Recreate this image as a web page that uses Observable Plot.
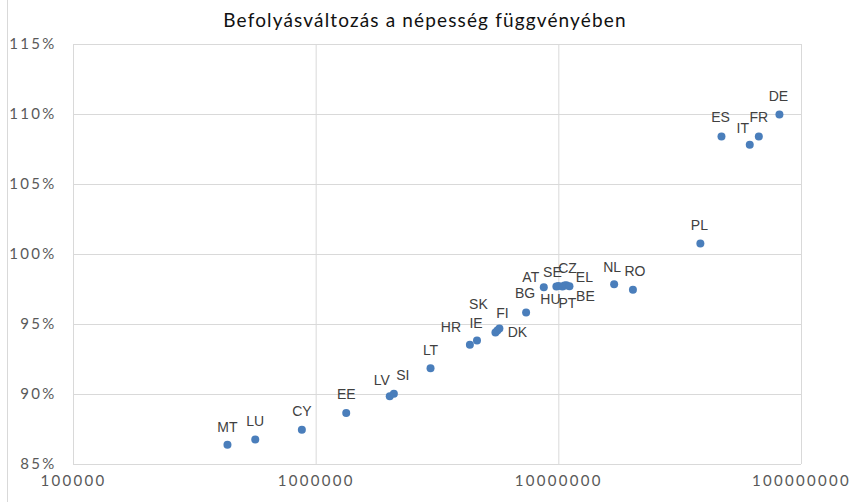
<!DOCTYPE html>
<html><head><meta charset="utf-8">
<script src="https://cdn.jsdelivr.net/npm/d3@7"></script>
<script src="https://cdn.jsdelivr.net/npm/@observablehq/plot@0.6"></script>
<style>
body{margin:0;background:#fff;}
#wrap{position:relative;width:850px;height:502px;overflow:hidden;background:#fff;}
#frame{position:absolute;left:7px;top:0;width:0;height:502px;border-left:1px solid #d9d9d9;}
#title{height:36px;line-height:40px;text-align:center;font-family:Lato,"Open Sans",sans-serif;font-size:19px;color:#111;letter-spacing:1.15px;}
g[aria-label="x-axis tick label"], g[aria-label="y-axis tick label"]{font-family:Lato,"Open Sans",sans-serif;letter-spacing:2.3px;}
</style></head>
<body><div id="wrap"><div id="frame"></div><div id="title">Befolyásváltozás a népesség függvényében</div><div id="chart"></div></div>
<script>
// Country codes, population, relative change of influence (%)
const codes = ["MT","LU","CY","EE","LV","SI","LT","HR","IE","SK","FI","DK","BG","AT","HU","SE","PT","CZ","EL","BE","NL","RO","PL","ES","IT","FR","DE"];
const population = [431000,561000,873000,1330000,2010000,2090000,2960000,4300000,4600000,5480000,5580000,5690000,7330000,8670000,9770000,9960000,10350000,10550000,10740000,11060000,16900000,20200000,38300000,46800000,61200000,66700000,81100000];
const change = [86.41,86.79,87.48,88.67,89.88,90.05,91.88,93.55,93.86,94.43,94.57,94.71,95.86,97.66,97.72,97.75,97.72,97.78,97.8,97.74,97.88,97.48,100.79,108.43,107.84,108.43,110.0];
const xTicks = [100000,1000000,10000000,100000000];
const yTicks = [85,90,95,100,105,110,115];

// label placement (style only): offset of each data label from its point
const labelNudge = {
  MT:[0,-17],LU:[0,-18],CY:[0,-18],EE:[0,-19],LV:[-8,-16],SI:[9,-18],LT:[0,-18],
  HR:[-19,-17],IE:[-1,-17],SK:[-17,-28],FI:[5,-17],DK:[18,4],BG:[-1,-19],AT:[-13,-10],
  SE:[-6,-13],CZ:[3,-17],EL:[18,-8],HU:[-6,13],PT:[5,17],BE:[16,10],
  NL:[-2,-17],RO:[2,-18],PL:[-1,-18],ES:[-1,-19],IT:[-7,-16],FR:[0,-19],DE:[-1,-18]
};

const data = codes.map((c,i)=>({code:c, pop:population[i], chg:change[i]}));
const grid = "#d9d9d9";

const labelMarks = data.map(d => Plot.text([d], {
  x:"pop", y:"chg", text:"code",
  dx: labelNudge[d.code][0], dy: labelNudge[d.code][1],
  fill:"#404040", fontSize:14, fontFamily:"Liberation Sans, Arial, sans-serif"
}));

const chart = Plot.plot({
  width:850, height:466,
  marginTop:8, marginBottom:38, marginLeft:73, marginRight:49,
  style:{fontFamily:"Liberation Sans, Arial, sans-serif", background:"#fff", overflow:"visible"},
  x:{type:"log", domain:[100000,100000000], label:null},
  y:{domain:[85,115], label:null},
  marks:[
    Plot.gridX(xTicks,{stroke:grid, strokeOpacity:1, strokeWidth:1}),
    Plot.gridY(yTicks,{stroke:grid, strokeOpacity:1, strokeWidth:1}),
    Plot.axisX(xTicks,{tickSize:0, tickPadding:11, tickFormat:d3.format("d"), fontSize:15, fill:"#595959", label:null}),
    Plot.axisY(yTicks,{tickSize:0, tickPadding:17, tickFormat:d=>d+"%", fontSize:15, fill:"#595959", label:null}),
    Plot.dot(data,{x:"pop", y:"chg", r:4, fill:"#4A7EBB", stroke:null}),
    ...labelMarks
  ]
});
document.getElementById("chart").appendChild(chart);
</script></body></html>
